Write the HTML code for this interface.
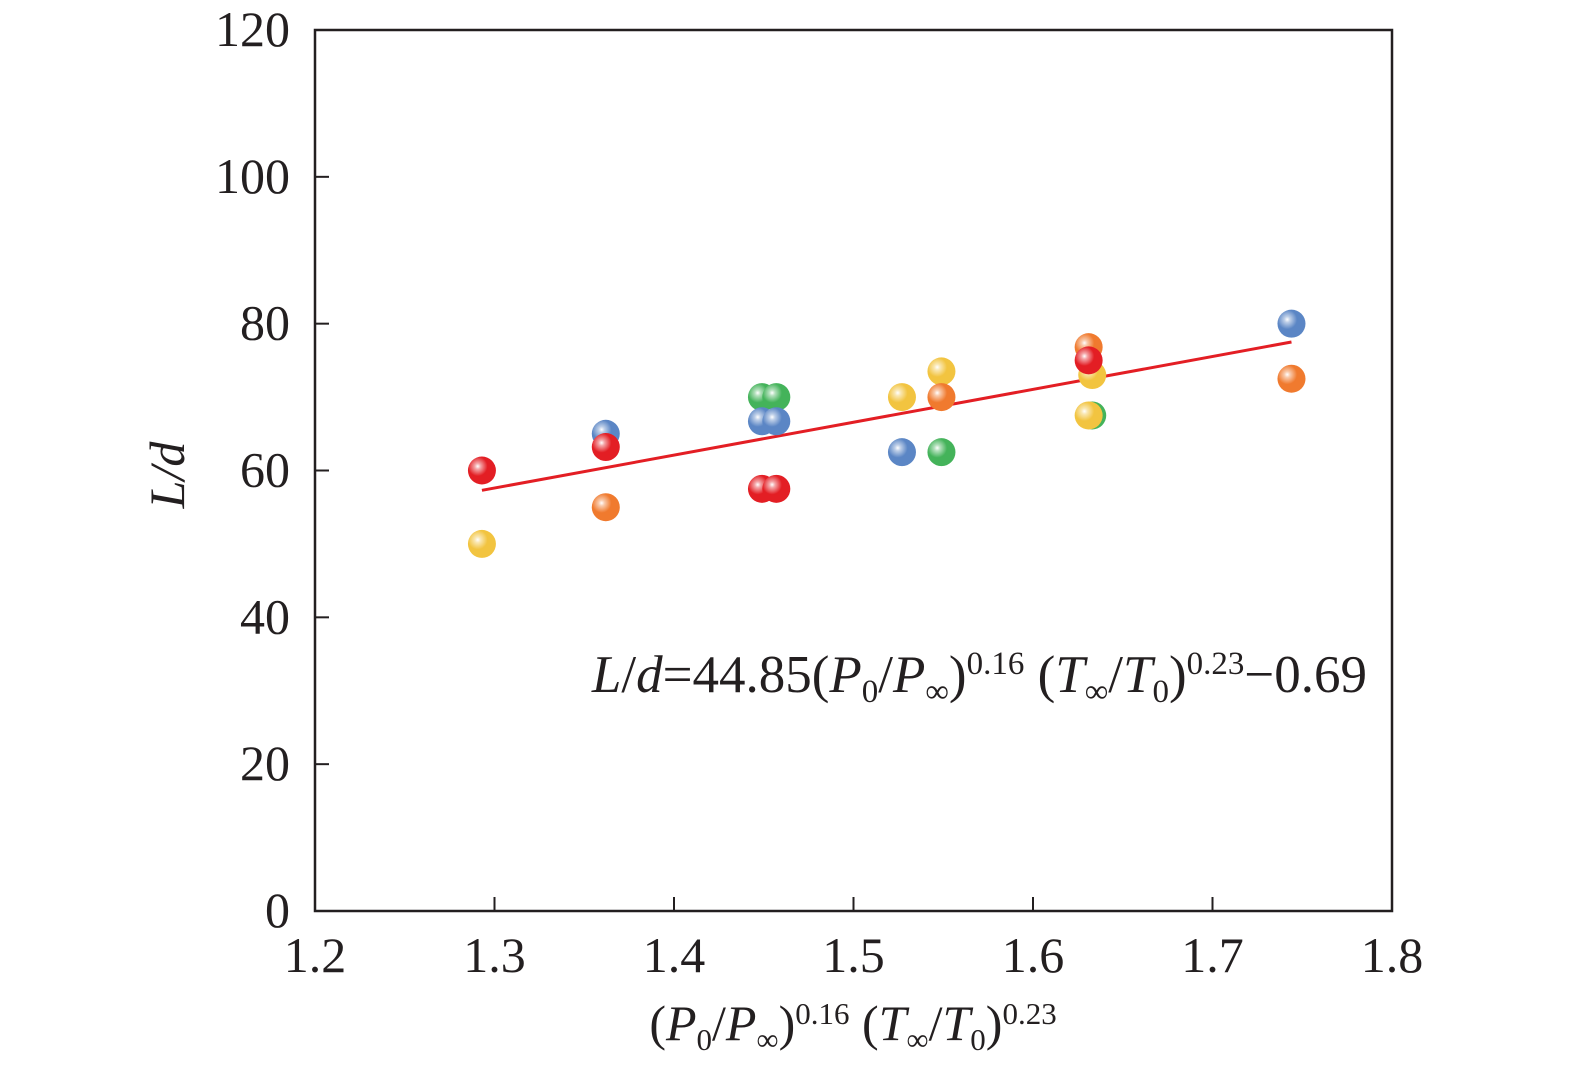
<!DOCTYPE html>
<html><head><meta charset="utf-8"><style>
html,body{margin:0;padding:0;background:#fff;overflow:hidden}
svg{display:block}
svg text{font-family:"Liberation Serif",serif;fill:#231f20}
</style></head><body>
<svg id="c" width="1575" height="1072" xmlns="http://www.w3.org/2000/svg">
<defs>
<radialGradient id="gr" cx="0.35" cy="0.35" r="0.7"><stop offset="0" stop-color="#fff"/><stop offset="0.15" stop-color="#fff" stop-opacity="0.6"/><stop offset="0.5" stop-color="#fff" stop-opacity="0"/></radialGradient>
</defs>
<rect x="315" y="30" width="1077" height="881" fill="none" stroke="#231f20" stroke-width="2.5"/>
<g id="ax"></g><g id="marks"></g>
<text x="184" y="475" font-size="50" font-style="italic" transform="rotate(-90 184 475)" text-anchor="middle">L/d</text>
<text x="853" y="1040" font-size="50" text-anchor="middle">(<tspan font-style="italic">P</tspan><tspan font-size="31" dy="10">0</tspan><tspan dy="-10">/</tspan><tspan font-style="italic">P</tspan><tspan font-size="31" dy="10">∞</tspan><tspan dy="-10">)</tspan><tspan font-size="31" dy="-16">0.16</tspan><tspan dy="16"> (</tspan><tspan font-style="italic">T</tspan><tspan font-size="31" dy="10">∞</tspan><tspan dy="-10">/</tspan><tspan font-style="italic">T</tspan><tspan font-size="31" dy="10">0</tspan><tspan dy="-10">)</tspan><tspan font-size="31" dy="-16">0.23</tspan></text>
<text x="1367" y="692" font-size="53" text-anchor="end"><tspan font-style="italic">L</tspan>/<tspan font-style="italic">d</tspan>=44.85(<tspan font-style="italic">P</tspan><tspan font-size="33" dy="10">0</tspan><tspan dy="-10">/</tspan><tspan font-style="italic">P</tspan><tspan font-size="33" dy="10">∞</tspan><tspan dy="-10">)</tspan><tspan font-size="33" dy="-18">0.16</tspan><tspan dy="18"> (</tspan><tspan font-style="italic">T</tspan><tspan font-size="33" dy="10">∞</tspan><tspan dy="-10">/</tspan><tspan font-style="italic">T</tspan><tspan font-size="33" dy="10">0</tspan><tspan dy="-10">)</tspan><tspan font-size="33" dy="-18">0.23</tspan><tspan dy="18">−0.69</tspan></text>
</svg>
<script>
const xTicks=[1.2,1.3,1.4,1.5,1.6,1.7,1.8];
const yTicks=[0,20,40,60,80,100,120];
const ptX=[1.293,1.293,1.362,1.362,1.362,1.449,1.449,1.449,1.457,1.457,1.457,1.527,1.527,1.549,1.549,1.549,1.631,1.633,1.631,1.633,1.631,1.744,1.744];
const ptY=[60,50,65,63.2,55,70,66.7,57.5,70,66.7,57.5,70,62.5,73.5,70,62.5,76.8,67.5,67.5,73,75,80,72.5];
const ptC=["red","yellow","blue","red","orange","green","blue","red","green","blue","red","yellow","blue","yellow","orange","green","orange","green","yellow","yellow","red","blue","orange"];
const fitX=[1.293,1.744];
const fitY=[57.3,77.5];
const colors={red:"#e31e24",yellow:"#f2c440",blue:"#5b86c5",orange:"#f07a2e",green:"#44b35a"};
const X=v=>315+(v-1.2)/0.6*1077, Y=v=>911-v/120*881;
const ns="http://www.w3.org/2000/svg";
const ax=document.getElementById('ax'), mk=document.getElementById('marks');
function el(t,a,p){const e=document.createElementNS(ns,t);for(const k in a)e.setAttribute(k,a[k]);p.appendChild(e);return e;}
xTicks.forEach(v=>{
 const l=el('line',{x1:X(v),x2:X(v),y1:911,y2:897,stroke:'#231f20','stroke-width':2},ax);
 
 
 const t=el('text',{x:X(v),y:972,'font-size':50,'text-anchor':'middle'},ax);t.textContent=v.toFixed(1);
 
 
});
yTicks.forEach(v=>{
 const l=el('line',{x1:315,x2:329,y1:Y(v),y2:Y(v),stroke:'#231f20','stroke-width':2},ax);
 
 
 const t=el('text',{x:290,y:Y(v)+16,'font-size':50,'text-anchor':'end'},ax);t.textContent=v;
 
 
});
const fl=el('line',{x1:X(fitX[0]),y1:Y(fitY[0]),x2:X(fitX[1]),y2:Y(fitY[1]),stroke:'#e31e24','stroke-width':3},mk);


ptX.forEach((v,i)=>{
 const g=el('g',{},mk);
 
 
 el('circle',{cx:X(v),cy:Y(ptY[i]),r:14,fill:colors[ptC[i]]},g);
 el('circle',{cx:X(v),cy:Y(ptY[i]),r:14,fill:'url(#gr)'},g);
});
</script>
</body></html>
